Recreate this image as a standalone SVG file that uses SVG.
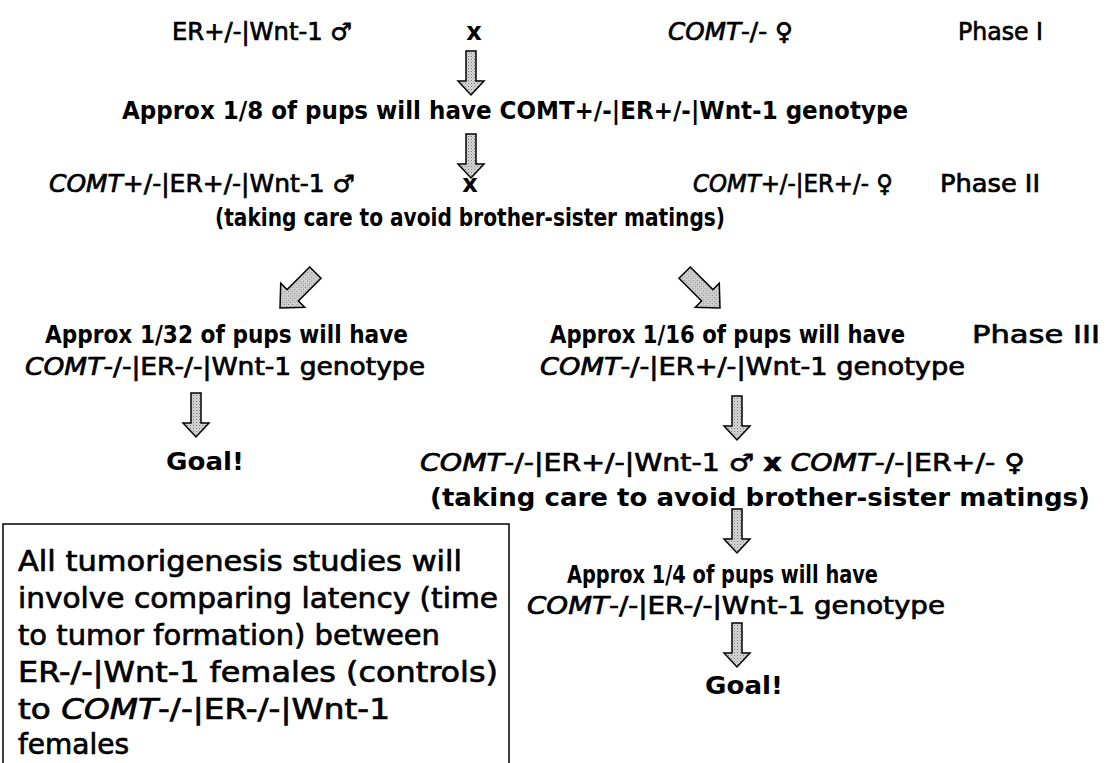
<svg xmlns="http://www.w3.org/2000/svg" width="1107" height="763" viewBox="0 0 1107 763">
<defs>
<style>
text{font-family:"DejaVu Sans","Liberation Sans",sans-serif;fill:#000;font-size:24px}
.b{font-weight:bold}
.n{font-weight:normal;stroke:#000;stroke-width:0.7}
.box{font-size:28px}
.goal{font-size:25px;font-weight:bold}
.arr{fill:url(#dots);stroke:#000;stroke-width:1.5;stroke-linejoin:miter}
</style>
<pattern id="dots" width="3" height="3" patternUnits="userSpaceOnUse">
<rect width="3" height="3" fill="#d8d8d8"/>
<rect width="1" height="1" fill="#777"/>
<rect x="1.5" y="1.5" width="1" height="1" fill="#999"/>
</pattern>
<path id="down" d="M-5,-44 H5 V-14 H13 L0,0 L-13,-14 H-5 Z"/>
<path id="diag" d="M-8,-50 H8 V-18 H17 L0,0 L-17,-18 H-8 Z"/>
</defs>
<g id="connectors">
<use href="#down" class="arr" transform="translate(471,95)"/>
<use href="#down" class="arr" transform="translate(471,178)"/>
<use href="#diag" class="arr" transform="translate(280,308) rotate(45)"/>
<use href="#diag" class="arr" transform="translate(720,308) rotate(-45)"/>
<use href="#down" class="arr" transform="translate(196,437)"/>
<use href="#down" class="arr" transform="translate(737,440)"/>
<use href="#down" class="arr" transform="translate(737,553)"/>
<use href="#down" class="arr" transform="translate(737,667)"/>
</g>
<g id="phase1">
<text x="172" y="40" class="n" textLength="180" lengthAdjust="spacingAndGlyphs">ER+/-|Wnt-1 ♂</text>
<text x="474" y="40" class="b" text-anchor="middle">x</text>
<text x="668" y="40" class="n" textLength="125" lengthAdjust="spacingAndGlyphs"><tspan font-style="italic">COMT</tspan>-/- ♀</text>
<text x="958" y="40" class="n" textLength="85" lengthAdjust="spacingAndGlyphs">Phase I</text>
</g>
<g id="result1">
<text x="122" y="119" class="b" textLength="786" lengthAdjust="spacingAndGlyphs">Approx 1/8 of pups will have COMT+/-|ER+/-|Wnt-1 genotype</text>
</g>
<g id="phase2">
<text x="49" y="192" class="n" textLength="306" lengthAdjust="spacingAndGlyphs"><tspan font-style="italic">COMT</tspan>+/-|ER+/-|Wnt-1 ♂</text>
<text x="470" y="192" class="b" text-anchor="middle">x</text>
<text x="693" y="192" class="n" textLength="200" lengthAdjust="spacingAndGlyphs"><tspan font-style="italic">COMT</tspan>+/-|ER+/- ♀</text>
<text x="940" y="192" class="n" textLength="100" lengthAdjust="spacingAndGlyphs">Phase II</text>
<text x="215" y="226" class="b" textLength="510" lengthAdjust="spacingAndGlyphs">(taking care to avoid brother-sister matings)</text>
</g>
<g id="left-result">
<text x="45" y="343" class="b" textLength="363" lengthAdjust="spacingAndGlyphs">Approx 1/32 of pups will have</text>
<text x="25" y="375" class="n" textLength="400" lengthAdjust="spacingAndGlyphs"><tspan font-style="italic">COMT</tspan>-/-|ER-/-|Wnt-1 genotype</text>
</g>
<g id="right-result">
<text x="550" y="343" class="b" textLength="355" lengthAdjust="spacingAndGlyphs">Approx 1/16 of pups will have</text>
<text x="540" y="375" class="n" textLength="425" lengthAdjust="spacingAndGlyphs"><tspan font-style="italic">COMT</tspan>-/-|ER+/-|Wnt-1 genotype</text>
<text x="972" y="343" class="n" textLength="128" lengthAdjust="spacingAndGlyphs">Phase III</text>
</g>
<g id="goal-left">
<text x="205" y="470" class="goal" text-anchor="middle" textLength="78" lengthAdjust="spacingAndGlyphs">Goal!</text>
</g>
<g id="phase3">
<text x="420" y="471" class="n" textLength="605" lengthAdjust="spacingAndGlyphs"><tspan font-style="italic">COMT</tspan>-/-|ER+/-|Wnt-1 ♂ <tspan font-weight="bold">x</tspan> <tspan font-style="italic">COMT</tspan>-/-|ER+/- ♀</text>
<text x="430" y="506" class="b" textLength="660" lengthAdjust="spacingAndGlyphs">(taking care to avoid brother-sister matings)</text>
</g>
<g id="final-result">
<text x="567" y="583" class="b" textLength="311" lengthAdjust="spacingAndGlyphs">Approx 1/4 of pups will have</text>
<text x="527" y="614" class="n" textLength="418" lengthAdjust="spacingAndGlyphs"><tspan font-style="italic">COMT</tspan>-/-|ER-/-|Wnt-1 genotype</text>
</g>
<g id="goal-right">
<text x="744" y="694" class="goal" text-anchor="middle" textLength="78" lengthAdjust="spacingAndGlyphs">Goal!</text>
</g>
<g id="note">
<path d="M3,770 V524 H509 V770" fill="none" stroke="#000" stroke-width="1.5"/>
<text x="18" y="571" class="box n" textLength="444" lengthAdjust="spacingAndGlyphs">All tumorigenesis studies will</text>
<text x="18" y="608" class="box n" textLength="480" lengthAdjust="spacingAndGlyphs">involve comparing latency (time</text>
<text x="18" y="645" class="box n" textLength="422" lengthAdjust="spacingAndGlyphs">to tumor formation) between</text>
<text x="18" y="682" class="box n" textLength="480" lengthAdjust="spacingAndGlyphs">ER-/-|Wnt-1 females (controls)</text>
<text x="18" y="719" class="box n" textLength="372" lengthAdjust="spacingAndGlyphs">to <tspan font-style="italic">COMT</tspan>-/-|ER-/-|Wnt-1</text>
<text x="18" y="754" class="box n" font-size="28">females</text>
</g>
</svg>
